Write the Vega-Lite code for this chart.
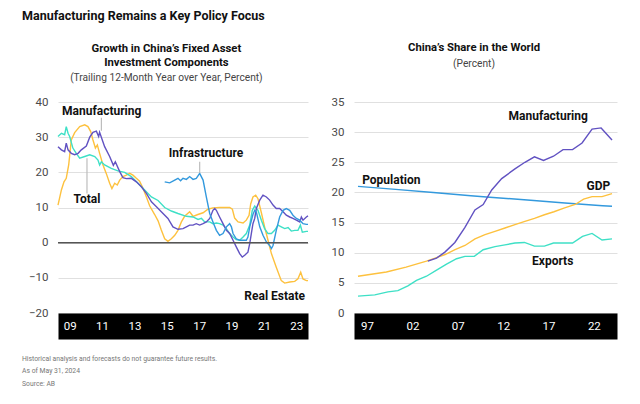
{
  "$schema": "https://vega.github.io/schema/vega-lite/v6.json",
  "padding": {"left": 22, "top": 10, "right": 5, "bottom": 5},
  "background": "#ffffff",
  "config": {
    "font": "Roboto",
    "view": {"stroke": null},
    "concat": {"spacing": 20},
    "axisY": {"grid": true, "gridColor": "#e0e0e0", "gridWidth": 1, "domain": false, "ticks": false, "labelFontSize": 11.5, "labelColor": "#4a4a4a", "labelPadding": 10, "title": null},
    "axisX": {"grid": false, "ticks": false, "title": null}
  },
  "title": {"text": "Manufacturing Remains a Key Policy Focus", "anchor": "start", "fontSize": 12.5, "fontWeight": "bold", "color": "#111", "offset": 19},
  "datasets": {
    "fai": [
      {"s":"Real Estate","t":2008.78,"v":10.7},{"s":"Real Estate","t":2008.99,"v":15.0},{"s":"Real Estate","t":2009.15,"v":17.3},{"s":"Real Estate","t":2009.29,"v":18.3},{"s":"Real Estate","t":2009.44,"v":22.1},{"s":"Real Estate","t":2009.60,"v":29.2},{"s":"Real Estate","t":2009.81,"v":31.3},{"s":"Real Estate","t":2010.12,"v":33.0},{"s":"Real Estate","t":2010.43,"v":33.5},{"s":"Real Estate","t":2010.63,"v":33.0},{"s":"Real Estate","t":2010.80,"v":31.6},{"s":"Real Estate","t":2010.94,"v":29.2},{"s":"Real Estate","t":2011.09,"v":26.9},{"s":"Real Estate","t":2011.21,"v":27.8},{"s":"Real Estate","t":2011.35,"v":25.4},{"s":"Real Estate","t":2011.56,"v":22.1},{"s":"Real Estate","t":2011.76,"v":19.7},{"s":"Real Estate","t":2011.97,"v":16.9},{"s":"Real Estate","t":2012.11,"v":15.4},{"s":"Real Estate","t":2012.28,"v":16.9},{"s":"Real Estate","t":2012.44,"v":16.4},{"s":"Real Estate","t":2012.59,"v":17.8},{"s":"Real Estate","t":2012.79,"v":18.8},{"s":"Real Estate","t":2013.00,"v":19.2},{"s":"Real Estate","t":2013.21,"v":19.7},{"s":"Real Estate","t":2013.41,"v":19.2},{"s":"Real Estate","t":2013.62,"v":18.3},{"s":"Real Estate","t":2013.82,"v":17.5},{"s":"Real Estate","t":2014.03,"v":15.5},{"s":"Real Estate","t":2014.24,"v":13.0},{"s":"Real Estate","t":2014.44,"v":10.5},{"s":"Real Estate","t":2014.75,"v":8.0},{"s":"Real Estate","t":2014.96,"v":6.2},{"s":"Real Estate","t":2015.16,"v":3.6},{"s":"Real Estate","t":2015.37,"v":1.1},{"s":"Real Estate","t":2015.57,"v":0.4},{"s":"Real Estate","t":2015.78,"v":1.1},{"s":"Real Estate","t":2015.99,"v":2.1},{"s":"Real Estate","t":2016.19,"v":3.5},{"s":"Real Estate","t":2016.40,"v":5.9},{"s":"Real Estate","t":2016.60,"v":7.5},{"s":"Real Estate","t":2016.91,"v":8.8},{"s":"Real Estate","t":2017.12,"v":7.5},{"s":"Real Estate","t":2017.42,"v":8.0},{"s":"Real Estate","t":2017.74,"v":8.5},{"s":"Real Estate","t":2018.04,"v":9.5},{"s":"Real Estate","t":2018.35,"v":9.9},{"s":"Real Estate","t":2018.76,"v":10.0},{"s":"Real Estate","t":2019.38,"v":10.0},{"s":"Real Estate","t":2019.55,"v":9.5},{"s":"Real Estate","t":2019.69,"v":7.0},{"s":"Real Estate","t":2019.90,"v":5.9},{"s":"Real Estate","t":2020.21,"v":5.6},{"s":"Real Estate","t":2020.41,"v":6.4},{"s":"Real Estate","t":2020.58,"v":7.8},{"s":"Real Estate","t":2020.68,"v":11.0},{"s":"Real Estate","t":2020.82,"v":13.0},{"s":"Real Estate","t":2020.99,"v":13.5},{"s":"Real Estate","t":2021.13,"v":12.5},{"s":"Real Estate","t":2021.34,"v":8.5},{"s":"Real Estate","t":2021.54,"v":4.5},{"s":"Real Estate","t":2021.75,"v":0.7},{"s":"Real Estate","t":2021.96,"v":-3.1},{"s":"Real Estate","t":2022.26,"v":-7.0},{"s":"Real Estate","t":2022.57,"v":-10.8},{"s":"Real Estate","t":2022.78,"v":-11.5},{"s":"Real Estate","t":2023.09,"v":-11.2},{"s":"Real Estate","t":2023.40,"v":-11.0},{"s":"Real Estate","t":2023.60,"v":-10.3},{"s":"Real Estate","t":2023.77,"v":-8.4},{"s":"Real Estate","t":2023.91,"v":-10.3},{"s":"Real Estate","t":2024.12,"v":-10.8},{"s":"Real Estate","t":2024.22,"v":-10.8},
      {"s":"Total","t":2008.78,"v":30.2},{"s":"Total","t":2008.99,"v":31.1},{"s":"Total","t":2009.19,"v":30.7},{"s":"Total","t":2009.29,"v":33.0},{"s":"Total","t":2009.40,"v":31.1},{"s":"Total","t":2009.50,"v":30.2},{"s":"Total","t":2009.70,"v":26.9},{"s":"Total","t":2009.91,"v":25.4},{"s":"Total","t":2010.12,"v":24.0},{"s":"Total","t":2010.43,"v":24.5},{"s":"Total","t":2010.74,"v":25.0},{"s":"Total","t":2011.05,"v":24.5},{"s":"Total","t":2011.25,"v":23.5},{"s":"Total","t":2011.35,"v":22.1},{"s":"Total","t":2011.46,"v":23.0},{"s":"Total","t":2011.66,"v":22.1},{"s":"Total","t":2012.07,"v":21.1},{"s":"Total","t":2012.48,"v":20.4},{"s":"Total","t":2012.90,"v":20.0},{"s":"Total","t":2013.31,"v":18.8},{"s":"Total","t":2013.72,"v":16.9},{"s":"Total","t":2014.13,"v":15.0},{"s":"Total","t":2014.55,"v":13.0},{"s":"Total","t":2014.96,"v":12.0},{"s":"Total","t":2015.37,"v":10.0},{"s":"Total","t":2015.78,"v":9.0},{"s":"Total","t":2016.19,"v":8.3},{"s":"Total","t":2016.71,"v":7.5},{"s":"Total","t":2017.12,"v":7.3},{"s":"Total","t":2017.43,"v":6.6},{"s":"Total","t":2017.64,"v":6.9},{"s":"Total","t":2017.84,"v":5.9},{"s":"Total","t":2018.15,"v":5.9},{"s":"Total","t":2018.35,"v":5.4},{"s":"Total","t":2018.56,"v":5.6},{"s":"Total","t":2018.76,"v":5.4},{"s":"Total","t":2018.97,"v":5.0},{"s":"Total","t":2019.18,"v":4.0},{"s":"Total","t":2019.38,"v":2.6},{"s":"Total","t":2019.59,"v":1.6},{"s":"Total","t":2019.79,"v":0.9},{"s":"Total","t":2020.00,"v":0.7},{"s":"Total","t":2020.21,"v":1.6},{"s":"Total","t":2020.41,"v":2.6},{"s":"Total","t":2020.62,"v":5.0},{"s":"Total","t":2020.78,"v":9.2},{"s":"Total","t":2020.93,"v":10.4},{"s":"Total","t":2021.13,"v":9.2},{"s":"Total","t":2021.34,"v":6.4},{"s":"Total","t":2021.54,"v":4.0},{"s":"Total","t":2021.75,"v":2.6},{"s":"Total","t":2021.96,"v":2.6},{"s":"Total","t":2022.16,"v":3.5},{"s":"Total","t":2022.37,"v":5.0},{"s":"Total","t":2022.57,"v":4.5},{"s":"Total","t":2022.78,"v":4.0},{"s":"Total","t":2022.99,"v":4.3},{"s":"Total","t":2023.19,"v":3.3},{"s":"Total","t":2023.40,"v":3.5},{"s":"Total","t":2023.60,"v":3.5},{"s":"Total","t":2023.75,"v":5.0},{"s":"Total","t":2023.87,"v":3.0},{"s":"Total","t":2024.12,"v":3.2},{"s":"Total","t":2024.22,"v":3.2},
      {"s":"Manufacturing","t":2008.78,"v":27.3},{"s":"Manufacturing","t":2008.99,"v":26.4},{"s":"Manufacturing","t":2009.19,"v":25.9},{"s":"Manufacturing","t":2009.29,"v":28.3},{"s":"Manufacturing","t":2009.40,"v":26.4},{"s":"Manufacturing","t":2009.60,"v":25.4},{"s":"Manufacturing","t":2009.81,"v":25.0},{"s":"Manufacturing","t":2010.02,"v":25.4},{"s":"Manufacturing","t":2010.22,"v":26.4},{"s":"Manufacturing","t":2010.53,"v":27.5},{"s":"Manufacturing","t":2010.74,"v":30.0},{"s":"Manufacturing","t":2010.94,"v":31.4},{"s":"Manufacturing","t":2011.15,"v":31.7},{"s":"Manufacturing","t":2011.29,"v":30.2},{"s":"Manufacturing","t":2011.35,"v":31.4},{"s":"Manufacturing","t":2011.66,"v":27.3},{"s":"Manufacturing","t":2011.97,"v":24.5},{"s":"Manufacturing","t":2012.20,"v":22.0},{"s":"Manufacturing","t":2012.32,"v":23.0},{"s":"Manufacturing","t":2012.59,"v":20.2},{"s":"Manufacturing","t":2012.79,"v":18.5},{"s":"Manufacturing","t":2013.00,"v":18.2},{"s":"Manufacturing","t":2013.31,"v":18.3},{"s":"Manufacturing","t":2013.62,"v":17.3},{"s":"Manufacturing","t":2013.93,"v":15.9},{"s":"Manufacturing","t":2014.24,"v":14.0},{"s":"Manufacturing","t":2014.55,"v":11.6},{"s":"Manufacturing","t":2014.86,"v":10.2},{"s":"Manufacturing","t":2015.16,"v":8.8},{"s":"Manufacturing","t":2015.57,"v":6.9},{"s":"Manufacturing","t":2015.88,"v":4.5},{"s":"Manufacturing","t":2016.19,"v":3.8},{"s":"Manufacturing","t":2016.50,"v":4.0},{"s":"Manufacturing","t":2016.71,"v":4.5},{"s":"Manufacturing","t":2016.91,"v":5.0},{"s":"Manufacturing","t":2017.12,"v":5.0},{"s":"Manufacturing","t":2017.32,"v":5.4},{"s":"Manufacturing","t":2017.53,"v":5.0},{"s":"Manufacturing","t":2017.74,"v":5.4},{"s":"Manufacturing","t":2017.94,"v":5.9},{"s":"Manufacturing","t":2018.15,"v":6.9},{"s":"Manufacturing","t":2018.35,"v":9.2},{"s":"Manufacturing","t":2018.46,"v":9.7},{"s":"Manufacturing","t":2018.56,"v":9.2},{"s":"Manufacturing","t":2018.76,"v":7.3},{"s":"Manufacturing","t":2018.97,"v":5.4},{"s":"Manufacturing","t":2019.18,"v":3.5},{"s":"Manufacturing","t":2019.38,"v":2.6},{"s":"Manufacturing","t":2019.59,"v":0.7},{"s":"Manufacturing","t":2019.79,"v":-1.2},{"s":"Manufacturing","t":2020.00,"v":-3.1},{"s":"Manufacturing","t":2020.16,"v":-4.1},{"s":"Manufacturing","t":2020.31,"v":-3.6},{"s":"Manufacturing","t":2020.51,"v":-2.7},{"s":"Manufacturing","t":2020.62,"v":-0.3},{"s":"Manufacturing","t":2020.72,"v":2.6},{"s":"Manufacturing","t":2020.82,"v":5.4},{"s":"Manufacturing","t":2020.93,"v":6.9},{"s":"Manufacturing","t":2021.03,"v":9.7},{"s":"Manufacturing","t":2021.24,"v":12.1},{"s":"Manufacturing","t":2021.44,"v":13.5},{"s":"Manufacturing","t":2021.65,"v":13.0},{"s":"Manufacturing","t":2021.85,"v":12.1},{"s":"Manufacturing","t":2022.06,"v":10.7},{"s":"Manufacturing","t":2022.26,"v":9.7},{"s":"Manufacturing","t":2022.47,"v":9.7},{"s":"Manufacturing","t":2022.68,"v":8.8},{"s":"Manufacturing","t":2022.88,"v":7.8},{"s":"Manufacturing","t":2023.09,"v":7.3},{"s":"Manufacturing","t":2023.29,"v":6.9},{"s":"Manufacturing","t":2023.50,"v":6.4},{"s":"Manufacturing","t":2023.71,"v":5.9},{"s":"Manufacturing","t":2023.81,"v":7.3},{"s":"Manufacturing","t":2023.91,"v":6.4},{"s":"Manufacturing","t":2024.12,"v":7.3},{"s":"Manufacturing","t":2024.22,"v":7.6},
      {"s":"Infrastructure","t":2015.37,"v":17.3},{"s":"Infrastructure","t":2015.68,"v":17.0},{"s":"Infrastructure","t":2015.99,"v":17.8},{"s":"Infrastructure","t":2016.19,"v":18.3},{"s":"Infrastructure","t":2016.35,"v":17.6},{"s":"Infrastructure","t":2016.50,"v":18.3},{"s":"Infrastructure","t":2016.71,"v":18.0},{"s":"Infrastructure","t":2016.91,"v":18.8},{"s":"Infrastructure","t":2017.12,"v":18.0},{"s":"Infrastructure","t":2017.32,"v":18.3},{"s":"Infrastructure","t":2017.53,"v":19.7},{"s":"Infrastructure","t":2017.74,"v":17.8},{"s":"Infrastructure","t":2017.94,"v":13.0},{"s":"Infrastructure","t":2018.15,"v":8.3},{"s":"Infrastructure","t":2018.35,"v":5.9},{"s":"Infrastructure","t":2018.56,"v":3.5},{"s":"Infrastructure","t":2018.76,"v":2.1},{"s":"Infrastructure","t":2018.97,"v":2.6},{"s":"Infrastructure","t":2019.18,"v":4.5},{"s":"Infrastructure","t":2019.38,"v":5.4},{"s":"Infrastructure","t":2019.49,"v":4.5},{"s":"Infrastructure","t":2019.59,"v":2.6},{"s":"Infrastructure","t":2019.79,"v":1.1},{"s":"Infrastructure","t":2020.00,"v":0.7},{"s":"Infrastructure","t":2020.41,"v":0.7},{"s":"Infrastructure","t":2020.51,"v":1.6},{"s":"Infrastructure","t":2020.62,"v":4.5},{"s":"Infrastructure","t":2020.82,"v":8.0},{"s":"Infrastructure","t":2020.93,"v":9.2},{"s":"Infrastructure","t":2021.03,"v":8.7},{"s":"Infrastructure","t":2021.24,"v":4.5},{"s":"Infrastructure","t":2021.44,"v":2.1},{"s":"Infrastructure","t":2021.65,"v":0.2},{"s":"Infrastructure","t":2021.85,"v":-0.8},{"s":"Infrastructure","t":2021.96,"v":-1.7},{"s":"Infrastructure","t":2022.06,"v":-0.8},{"s":"Infrastructure","t":2022.26,"v":3.5},{"s":"Infrastructure","t":2022.47,"v":7.3},{"s":"Infrastructure","t":2022.68,"v":9.2},{"s":"Infrastructure","t":2022.88,"v":9.7},{"s":"Infrastructure","t":2023.09,"v":9.2},{"s":"Infrastructure","t":2023.29,"v":7.8},{"s":"Infrastructure","t":2023.50,"v":6.9},{"s":"Infrastructure","t":2023.71,"v":6.4},{"s":"Infrastructure","t":2023.91,"v":5.4},{"s":"Infrastructure","t":2024.12,"v":5.2},{"s":"Infrastructure","t":2024.22,"v":5.2}
    ],
    "faiLabels": [
      {"label":"Manufacturing","t":2011.48,"v":37.4},
      {"label":"Total","t":2010.57,"v":12.3},
      {"label":"Infrastructure","t":2017.92,"v":25.4},
      {"label":"Real Estate","t":2022.16,"v":-15.2}
    ],
    "faiLeaders": [
      {"t":2011.46,"v":35.5,"v2":31.8},
      {"t":2010.57,"v":24.0,"v2":14.0},
      {"t":2017.53,"v":23.0,"v2":19.9}
    ],
    "share": [
      {"s":"Population","t":1996.0,"v":21.0},{"s":"Population","t":2000.15,"v":20.5},{"s":"Population","t":2004.30,"v":20.0},{"s":"Population","t":2008.44,"v":19.45},{"s":"Population","t":2010.52,"v":19.2},{"s":"Population","t":2014.67,"v":18.75},{"s":"Population","t":2018.81,"v":18.25},{"s":"Population","t":2022.96,"v":17.8},{"s":"Population","t":2024.0,"v":17.7},
      {"s":"GDP","t":1996.0,"v":6.1},{"s":"GDP","t":1999.13,"v":6.8},{"s":"GDP","t":2001.3,"v":7.6},{"s":"GDP","t":2003.55,"v":8.6},{"s":"GDP","t":2004.5,"v":9.1},{"s":"GDP","t":2005.6,"v":9.7},{"s":"GDP","t":2006.7,"v":10.5},{"s":"GDP","t":2007.79,"v":11.2},{"s":"GDP","t":2008.9,"v":12.3},{"s":"GDP","t":2010.0,"v":13.0},{"s":"GDP","t":2011.1,"v":13.55},{"s":"GDP","t":2012.2,"v":14.1},{"s":"GDP","t":2013.3,"v":14.65},{"s":"GDP","t":2014.4,"v":15.2},{"s":"GDP","t":2015.45,"v":15.7},{"s":"GDP","t":2016.55,"v":16.3},{"s":"GDP","t":2017.6,"v":16.8},{"s":"GDP","t":2018.7,"v":17.4},{"s":"GDP","t":2019.94,"v":18.0},{"s":"GDP","t":2020.87,"v":18.9},{"s":"GDP","t":2021.8,"v":19.3},{"s":"GDP","t":2022.9,"v":19.3},{"s":"GDP","t":2024.0,"v":19.8},
      {"s":"Manufacturing","t":2003.7,"v":8.6},{"s":"Manufacturing","t":2004.66,"v":9.1},{"s":"Manufacturing","t":2005.58,"v":10.1},{"s":"Manufacturing","t":2006.68,"v":11.7},{"s":"Manufacturing","t":2007.79,"v":14.2},{"s":"Manufacturing","t":2008.89,"v":17.1},{"s":"Manufacturing","t":2009.8,"v":18.0},{"s":"Manufacturing","t":2010.74,"v":20.4},{"s":"Manufacturing","t":2011.84,"v":22.3},{"s":"Manufacturing","t":2013.3,"v":23.9},{"s":"Manufacturing","t":2014.4,"v":25.0},{"s":"Manufacturing","t":2015.45,"v":25.9},{"s":"Manufacturing","t":2016.45,"v":25.3},{"s":"Manufacturing","t":2017.55,"v":26.0},{"s":"Manufacturing","t":2018.6,"v":27.1},{"s":"Manufacturing","t":2019.65,"v":27.1},{"s":"Manufacturing","t":2020.7,"v":28.2},{"s":"Manufacturing","t":2021.8,"v":30.5},{"s":"Manufacturing","t":2022.8,"v":30.7},{"s":"Manufacturing","t":2024.0,"v":28.7},
      {"s":"Exports","t":1996.0,"v":2.8},{"s":"Exports","t":1997.85,"v":3.0},{"s":"Exports","t":1999.3,"v":3.5},{"s":"Exports","t":2000.4,"v":3.7},{"s":"Exports","t":2001.5,"v":4.5},{"s":"Exports","t":2002.45,"v":5.4},{"s":"Exports","t":2003.55,"v":6.1},{"s":"Exports","t":2004.66,"v":7.1},{"s":"Exports","t":2005.76,"v":8.1},{"s":"Exports","t":2006.87,"v":9.0},{"s":"Exports","t":2007.79,"v":9.4},{"s":"Exports","t":2008.82,"v":9.4},{"s":"Exports","t":2009.8,"v":10.5},{"s":"Exports","t":2011.1,"v":11.0},{"s":"Exports","t":2012.2,"v":11.3},{"s":"Exports","t":2013.3,"v":11.6},{"s":"Exports","t":2014.35,"v":11.7},{"s":"Exports","t":2015.45,"v":11.1},{"s":"Exports","t":2016.55,"v":11.1},{"s":"Exports","t":2017.55,"v":11.6},{"s":"Exports","t":2018.66,"v":11.6},{"s":"Exports","t":2019.65,"v":11.6},{"s":"Exports","t":2020.75,"v":12.7},{"s":"Exports","t":2021.8,"v":13.2},{"s":"Exports","t":2022.9,"v":12.1},{"s":"Exports","t":2024.0,"v":12.3}
    ],
    "shareLabels": [
      {"label":"Manufacturing","t":2016.96,"v":32.6},
      {"label":"Population","t":1999.67,"v":22.1},
      {"label":"GDP","t":2022.5,"v":21.1},
      {"label":"Exports","t":2017.46,"v":8.6}
    ]
  },
  "vconcat": [
    {
      "title": {"text": ["Historical analysis and forecasts do not guarantee future results.", "As of May 31, 2024", "Source: AB"], "orient": "bottom", "anchor": "start", "frame": "bounds", "fontSize": 6.8, "fontWeight": "normal", "color": "#777", "lineHeight": 12.5, "offset": 24},
      "resolve": {"scale": {"color": "independent"}},
      "hconcat": [
        {
          "width": 250, "height": 211,
          "title": {"text": ["Growth in China’s Fixed Asset", "Investment Components"], "subtitle": "(Trailing 12-Month Year over Year, Percent)", "anchor": "middle", "frame": "bounds", "fontSize": 11.3, "fontWeight": "bold", "color": "#111", "lineHeight": 14, "subtitleFontSize": 10.2, "subtitleColor": "#444", "subtitlePadding": 5, "offset": 13},
          "resolve": {"axis": {"x": "independent"}},
          "layer": [
            {
              "data": {"name": "fai"},
              "mark": {"type": "line", "strokeWidth": 1.4},
              "encoding": {
                "x": {"field": "t", "type": "quantitative", "scale": {"domain": [2008.78, 2024.22], "nice": false, "zero": false}, "axis": {"orient": "bottom", "values": [2009.5, 2011.5], "labels": false, "domain": true, "domainColor": "#000", "domainWidth": 26, "domainCap": "butt", "offset": 13, "zindex": 0}},
                "y": {"field": "v", "type": "quantitative", "scale": {"domain": [-20, 40], "nice": false}, "axis": {"values": [-20, -10, 0, 10, 20, 30, 40], "minExtent": 36}},
                "color": {"field": "s", "type": "nominal", "legend": null, "scale": {"domain": ["Real Estate", "Total", "Manufacturing", "Infrastructure"], "range": ["#fdc13e", "#3ee0c6", "#6152c2", "#3399dd"]}},
                "order": {"field": "t", "type": "quantitative"}
              }
            },
            {
              "data": {"values": [{"v": 0}]},
              "mark": {"type": "rule", "color": "#555", "strokeWidth": 1.5},
              "encoding": {"y": {"field": "v", "type": "quantitative", "axis": {"values": [-20, -10, 0, 10, 20, 30, 40], "minExtent": 36}}}
            },
            {
              "data": {"name": "faiLeaders"},
              "mark": {"type": "rule", "color": "#bdbdbd", "strokeWidth": 1.2},
              "encoding": {
                "x": {"field": "t", "type": "quantitative", "axis": null},
                "y": {"field": "v", "type": "quantitative", "axis": {"values": [-20, -10, 0, 10, 20, 30, 40], "minExtent": 36}},
                "y2": {"field": "v2"}
              }
            },
            {
              "data": {"name": "faiLabels"},
              "mark": {"type": "text", "fontSize": 12, "fontWeight": "bold", "color": "#111", "baseline": "middle", "align": "center"},
              "encoding": {
                "x": {"field": "t", "type": "quantitative", "axis": {"orient": "bottom", "values": [2009.5, 2011.5, 2013.5, 2015.5, 2017.5, 2019.5, 2021.5, 2023.5], "labelExpr": "slice(toString(floor(datum.value)), 2)", "domain": false, "labelColor": "#fff", "labelFontSize": 11.5, "labelBaseline": "middle", "labelPadding": 0, "labelFlush": false, "offset": 13, "zindex": 1}},
                "y": {"field": "v", "type": "quantitative", "axis": {"values": [-20, -10, 0, 10, 20, 30, 40], "minExtent": 36}},
                "text": {"field": "label"}
              }
            }
          ]
        },
        {
          "width": 263, "height": 211,
          "title": {"text": "China’s Share in the World", "subtitle": "(Percent)", "anchor": "middle", "frame": "bounds", "fontSize": 11.3, "fontWeight": "bold", "color": "#111", "subtitleFontSize": 10.2, "subtitleColor": "#444", "subtitlePadding": 6, "offset": 27},
          "resolve": {"axis": {"x": "independent"}},
          "layer": [
            {
              "data": {"name": "share"},
              "mark": {"type": "line", "strokeWidth": 1.4},
              "encoding": {
                "x": {"field": "t", "type": "quantitative", "scale": {"domain": [1995.56, 2024.55], "nice": false, "zero": false}, "axis": {"orient": "bottom", "values": [1997], "labels": false, "domain": true, "domainColor": "#000", "domainWidth": 26, "domainCap": "butt", "offset": 13, "zindex": 0}},
                "y": {"field": "v", "type": "quantitative", "scale": {"domain": [0, 35], "nice": false}, "axis": {"values": [0, 5, 10, 15, 20, 25, 30, 35], "minExtent": 21}},
                "color": {"field": "s", "type": "nominal", "legend": null, "scale": {"domain": ["GDP", "Exports", "Manufacturing", "Population"], "range": ["#fdc13e", "#3ee0c6", "#6152c2", "#3399dd"]}},
                "order": {"field": "t", "type": "quantitative"}
              }
            },
            {
              "data": {"name": "shareLabels"},
              "mark": {"type": "text", "fontSize": 12, "fontWeight": "bold", "color": "#111", "baseline": "middle", "align": "center"},
              "encoding": {
                "x": {"field": "t", "type": "quantitative", "axis": {"orient": "bottom", "values": [1997, 2002, 2007, 2012, 2017, 2022], "labelExpr": "slice(toString(datum.value), 2)", "domain": false, "labelColor": "#fff", "labelFontSize": 11.5, "labelBaseline": "middle", "labelPadding": 0, "labelFlush": false, "offset": 13, "zindex": 1}},
                "y": {"field": "v", "type": "quantitative", "axis": {"values": [0, 5, 10, 15, 20, 25, 30, 35], "minExtent": 21}},
                "text": {"field": "label"}
              }
            }
          ]
        }
      ]
    }
  ]
}
